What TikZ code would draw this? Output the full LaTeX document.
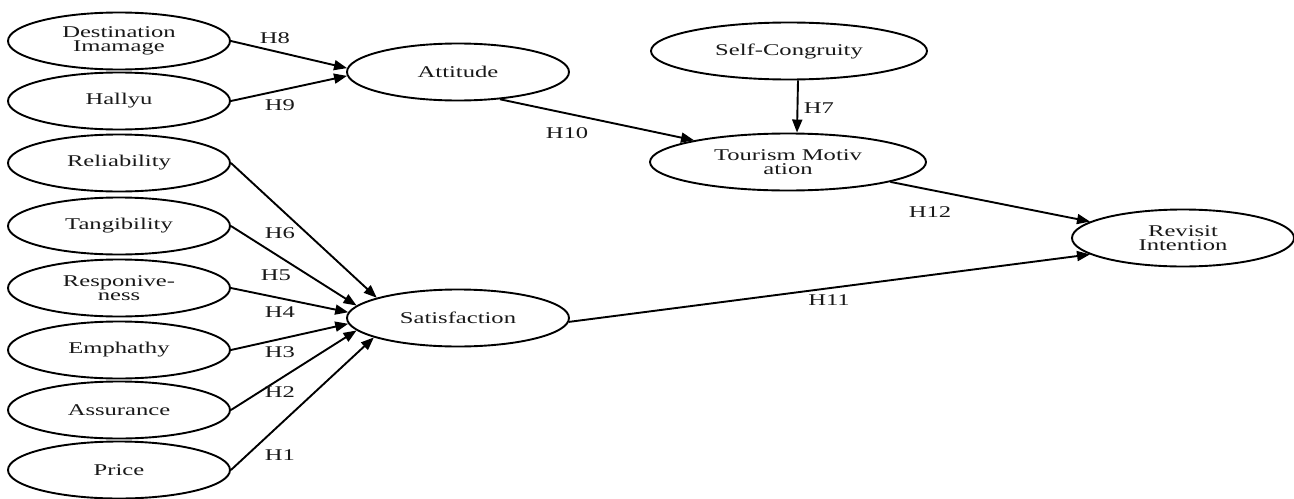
\documentclass[tikz,border=0pt]{standalone}
\usepackage{fontspec}
\setmainfont{Liberation Serif}[FakeStretch=1.5]
\usetikzlibrary{arrows.meta,shapes.geometric}
\begin{document}
\begin{tikzpicture}[x=0.5pt,y=-0.5pt,
  every node/.style={font=\fontsize{8.2}{7}\selectfont, text=black!90},
  var/.style={ellipse, draw, line width=0.95pt, inner sep=0pt, align=center, minimum width=111pt, minimum height=28.5pt},
  wide/.style={var, minimum width=138pt},
  link/.style={line width=0.95pt, -{Triangle[length=6.5pt,width=5pt]}},
  hyp/.style={inner sep=0pt}]
\useasboundingbox (0,0) rectangle (1294,498);
% left column
\node[var] (di) at (119,41) {Destination\\Imamage};
\node[var] (ha) at (119,101) {Hallyu};
\node[var] (re) at (119,163) {Reliability};
\node[var] (ta) at (119,226) {Tangibility};
\node[var] (rs) at (119,288) {Responive-\\ness};
\node[var] (em) at (119,350) {Emphathy};
\node[var] (as) at (119,410) {Assurance};
\node[var] (pr) at (119,470) {Price};
% middle and right
\node[var] (at) at (458,72) {Attitude};
\node[var] (sa) at (458,318) {Satisfaction};
\node[wide] (sc) at (789,51) {Self-Congruity};
\node[wide] (tm) at (788,162) {Tourism Motiv\\ation};
\node[var] (ri) at (1183,238) {Revisit\\Intention};
% connectors
\draw[link] (di.east) -- (at.178);
\draw[link] (ha.east) -- (at.182);
\draw[link] (re.east) -- (sa.166);
\draw[link] (ta.east) -- (sa.173);
\draw[link] (rs.east) -- (sa.177);
\draw[link] (em.east) -- (sa.183);
\draw[link] (as.east) -- (sa.187);
\draw[link] (pr.east) -- (sa.193);
\draw[link] (at.-33) -- (tm.167);
\draw[link] ([xshift=4.5pt]sc.south) -- ([xshift=4.5pt]tm.north);
\draw[link] (tm.-11) -- (ri.170);
\draw[link] (sa.-2) -- (ri.190);
% labels
\node[hyp] (h8) at (275,38) {H8};
\node[hyp] (h9) at (280,105) {H9};
\node[hyp] (h6) at (280,233) {H6};
\node[hyp] (h5) at (276,275) {H5};
\node[hyp] (h4) at (280,312) {H4};
\node[hyp] (h3) at (280,352) {H3};
\node[hyp] (h2) at (280,392) {H2};
\node[hyp] (h1) at (280,455) {H1};
\node[hyp] (h10) at (567,133) {H10};
\node[hyp] (h7) at (819,108) {H7};
\node[hyp] (h12) at (930,212) {H12};
\node[hyp] (h11) at (829,300) {H11};
\end{tikzpicture}
\end{document}
